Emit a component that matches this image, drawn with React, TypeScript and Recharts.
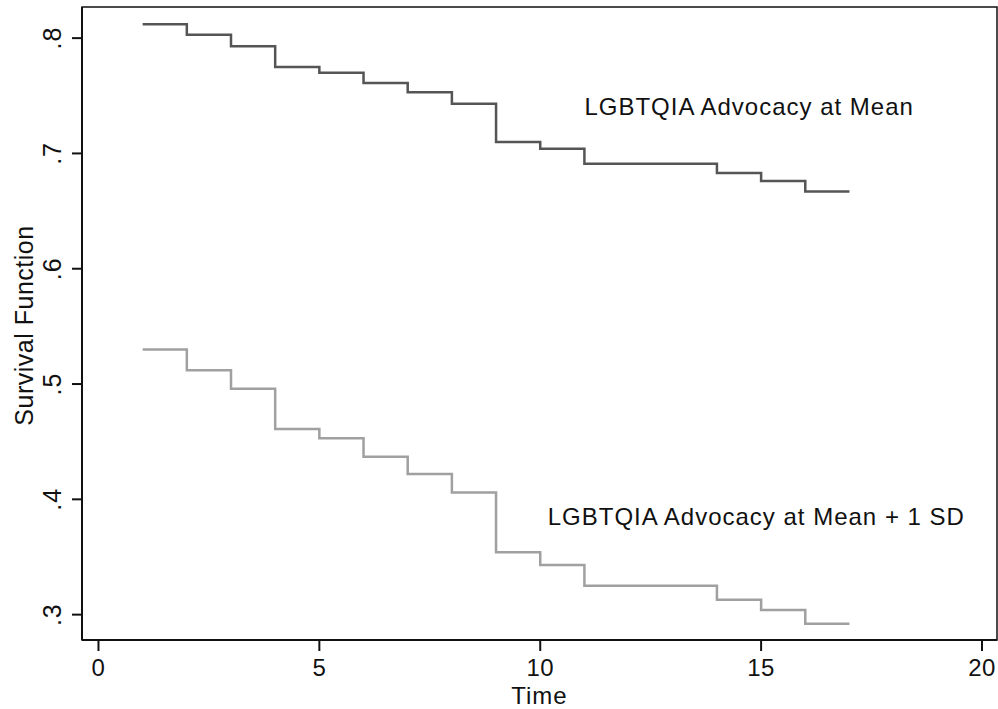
import { LineChart, Line, XAxis, YAxis, ReferenceArea, ReferenceDot, Label } from "recharts";

const TIMES = [1, 2, 3, 4, 5, 6, 7, 8, 9, 10, 11, 14, 15, 16, 17];
const AT_MEAN = [0.812, 0.803, 0.793, 0.775, 0.77, 0.761, 0.753, 0.743, 0.71, 0.704, 0.691, 0.683, 0.676, 0.667, 0.667];
const AT_MEAN_SD = [0.53, 0.512, 0.496, 0.461, 0.453, 0.437, 0.422, 0.406, 0.354, 0.343, 0.325, 0.313, 0.304, 0.292, 0.292];
const X_TICKS = [0, 5, 10, 15, 20];
const Y_TICKS = [0.3, 0.4, 0.5, 0.6, 0.7, 0.8];
const LABEL_MEAN = "LGBTQIA Advocacy at Mean";
const LABEL_MEAN_SD = "LGBTQIA Advocacy at Mean + 1 SD";

const X_DOMAIN: [number, number] = [-0.373, 20.34];
const Y_DOMAIN: [number, number] = [0.278, 0.827];

const data = TIMES.map((t, i) => ({ t, mean: AT_MEAN[i], meanSd: AT_MEAN_SD[i] }));

const FONT = "'Liberation Sans', Arial, sans-serif";

function YTick(props: any) {
  const { x, y, payload } = props;
  const txt = payload.value.toFixed(1).replace(/^0/, "");
  return (
    <text
      x={x}
      y={y}
      transform={`rotate(-90, ${x}, ${y})`}
      textAnchor="middle"
      fontSize={25}
      letterSpacing={1}
      fontFamily={FONT}
      fill="#111"
    >
      {txt}
    </text>
  );
}

function note(text: string) {
  return (props: any) => {
    const vb = props.viewBox;
    return (
      <text x={vb.x} y={vb.y} fontSize={24} letterSpacing={1} fontFamily={FONT} fill="#111">
        {text}
      </text>
    );
  };
}

function yTitle(props: any) {
  const vb = props.viewBox;
  const x = vb.x + 33;
  const y = vb.y + vb.height / 2 + 2;
  return (
    <text
      x={x}
      y={y}
      transform={`rotate(-90, ${x}, ${y})`}
      textAnchor="middle"
      fontSize={25}
      letterSpacing={0.5}
      fontFamily={FONT}
      fill="#111"
    >
      Survival Function
    </text>
  );
}

export default function App() {
  return (
    <div style={{ position: "absolute", left: 0, top: 0, width: 998, height: 709, background: "#fff" }}>
      <LineChart width={998} height={709} data={data} margin={{ top: 7, right: 1, bottom: 0, left: 0 }}>
        <XAxis
          dataKey="t"
          type="number"
          domain={X_DOMAIN}
          ticks={X_TICKS}
          allowDataOverflow
          height={69}
          tickSize={11}
          tickMargin={8}
          stroke="#111"
          strokeWidth={2}
          tick={{ fontSize: 24, fill: "#111", fontFamily: FONT, letterSpacing: 0.5 }}
        >
          <Label
            value="Time"
            position="insideBottom"
            offset={5}
            style={{ fontSize: 24, fill: "#111", fontFamily: FONT, letterSpacing: 1 }}
          />
        </XAxis>
        <YAxis
          type="number"
          domain={Y_DOMAIN}
          ticks={Y_TICKS}
          allowDataOverflow
          width={82}
          tickSize={10}
          tickMargin={11}
          stroke="#111"
          strokeWidth={2}
          tick={<YTick />}
        >
          <Label content={yTitle} />
        </YAxis>
        <ReferenceArea
          x1={X_DOMAIN[0]}
          x2={X_DOMAIN[1]}
          y1={Y_DOMAIN[0]}
          y2={Y_DOMAIN[1]}
          fill="none"
          stroke="#111"
          strokeWidth={1.5}
        />
        <Line
          type="stepAfter"
          dataKey="mean"
          stroke="#555"
          strokeWidth={2.5}
          dot={false}
          isAnimationActive={false}
        />
        <Line
          type="stepAfter"
          dataKey="meanSd"
          stroke="#a0a0a0"
          strokeWidth={2.5}
          dot={false}
          isAnimationActive={false}
        />
        <ReferenceDot x={11} y={0.733} r={0} fill="none" stroke="none" label={note(LABEL_MEAN)} />
        <ReferenceDot x={10.17} y={0.378} r={0} fill="none" stroke="none" label={note(LABEL_MEAN_SD)} />
      </LineChart>
    </div>
  );
}
